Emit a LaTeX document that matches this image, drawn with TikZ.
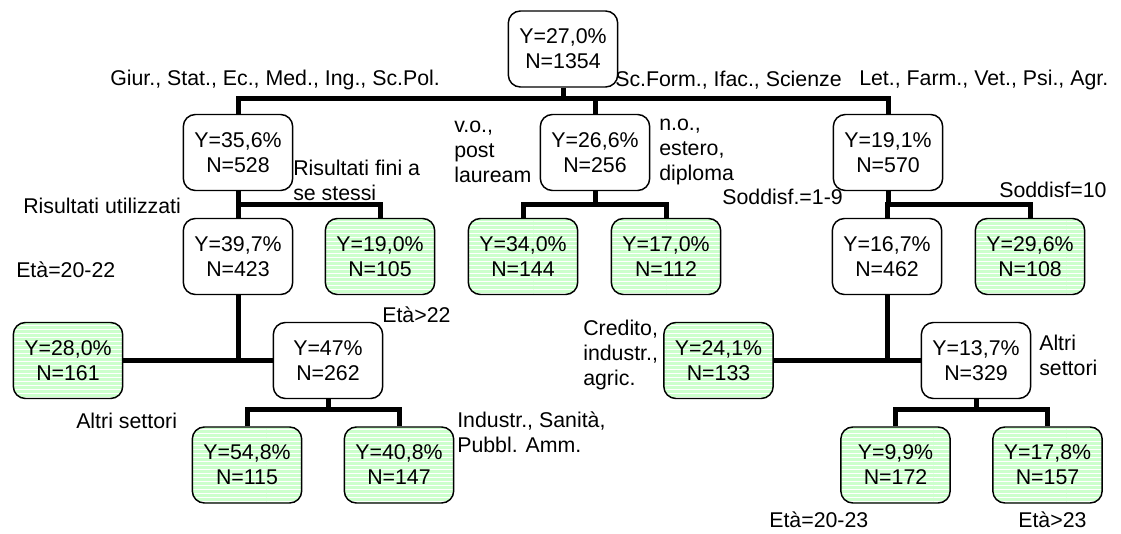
\documentclass[tikz,border=0pt]{standalone}
\usepackage{fontspec}
\setmainfont{Liberation Sans}
\usetikzlibrary{patterns}
\definecolor{leafgreen}{RGB}{204,255,204}

\begin{document}
\begin{tikzpicture}[x=0.75pt,y=-0.75pt]
  \tikzset{
    every node/.style={font=\fontsize{16}{18.75}\selectfont},
    box/.style={draw,rounded corners=9pt,line width=1.1pt,align=center,
      minimum width=82pt,minimum height=57pt,inner sep=0pt,
      execute at end node={\\[-9pt]\mbox{}}},
    leaf/.style={box,preaction={fill=leafgreen},pattern=horizontal lines,pattern color=white},
    lbl/.style={anchor=west,align=left,inner sep=0pt},
    link/.style={line width=3.75pt}
  }
  \useasboundingbox (0,0) rectangle (1121,534);

  % tree nodes
  \node[box] (root) at (563,49) {Y=27,0\%\\N=1354};
  \node[box] (n1) at (238,152.5) {Y=35,6\%\\N=528};
  \node[box] (n2) at (595,152.5) {Y=26,6\%\\N=256};
  \node[box] (n3) at (888,152.5) {Y=19,1\%\\N=570};
  \node[box] (n11) at (238,256.5) {Y=39,7\%\\N=423};
  \node[leaf] (n12) at (380,256.5) {Y=19,0\%\\N=105};
  \node[leaf] (n21) at (523,256.5) {Y=34,0\%\\N=144};
  \node[leaf] (n22) at (666,256.5) {Y=17,0\%\\N=112};
  \node[box] (n31) at (887,256.5) {Y=16,7\%\\N=462};
  \node[leaf] (n32) at (1030,256.5) {Y=29,6\%\\N=108};
  \node[leaf] (n111) at (68,360.5) {Y=28,0\%\\N=161};
  \node[box] (n112) at (328,360.5) {Y=47\%\\N=262};
  \node[leaf] (n311) at (718.5,360.5) {Y=24,1\%\\N=133};
  \node[box] (n312) at (976,360.5) {Y=13,7\%\\N=329};
  \node[leaf] (n1121) at (247,465) {Y=54,8\%\\N=115};
  \node[leaf] (n1122) at (399,465) {Y=40,8\%\\N=147};
  \node[leaf] (n3121) at (895.5,465) {Y=9,9\%\\N=172};
  \node[leaf] (n3122) at (1047.5,465) {Y=17,8\%\\N=157};

  % split labels
  \node[lbl] (l1) at (110,80) {Giur., Stat., Ec., Med., Ing., Sc.Pol.};
  \node[lbl] (l2) at (615,80) {Sc.Form., Ifac., Scienze};
  \node[lbl] (l3) at (859,80) {Let., Farm., Vet., Psi., Agr.};
  \node[lbl] (l21) at (454,152) {v.o.,\\post\\lauream};
  \node[lbl] (l22) at (659,152) {n.o.,\\estero,\\diploma};
  \node[lbl] (l12) at (293,180.5) {Risultati fini a\\se stessi};
  \node[lbl] (l11) at (23,206) {Risultati utilizzati};
  \node[lbl,anchor=east] (l31) at (843,197) {Soddisf.=1-9};
  \node[lbl] (l32) at (999,190) {Soddisf=10};
  \node[lbl] (l111) at (16,270) {Età=20-22};
  \node[lbl] (l112) at (382,315) {Età>22};
  \node[lbl] (l1121) at (76,421) {Altri settori};
  \node[lbl] (l1122) at (457,432.5) {Industr., Sanità,\\Pubbl. Amm.};
  \node[lbl] (l311) at (583,355) {Credito,\\industr.,\\agric.};
  \node[lbl] (l312) at (1039,355.5) {Altri\\settori};
  \node[lbl] (l3121) at (769,520) {Età=20-23};
  \node[lbl] (l3122) at (1018,520) {Età>23};

  % connectors
  \coordinate (bar0) at (0,99);
  \coordinate (bar1) at (0,205);
  \coordinate (bar3) at (0,410);
  \draw[link] (root.south) -- (root.south |- bar0);
  \draw[link] (n1.north) -- (n1.north |- bar0) -- (n3.north |- bar0) -- (n3.north);
  \draw[link] (n2.north) -- (n2.north |- bar0);

  \draw[link] (n1.south) -- (n1.south |- bar1);
  \draw[link] (n11.north) -- (n11.north |- bar1) -- (n12.north |- bar1) -- (n12.north);
  \draw[link] (n2.south) -- (n2.south |- bar1);
  \draw[link] (n21.north) -- (n21.north |- bar1) -- (n22.north |- bar1) -- (n22.north);
  \draw[link] (n3.south) -- (n3.south |- bar1);
  \draw[link] (n31.north) -- (n31.north |- bar1) -- (n32.north |- bar1) -- (n32.north);

  \draw[link] (n11.south) -- (n11.south |- n111.east);
  \draw[link] (n111) edge (n112)
              (n31.south) edge (n31.south |- n311.east)
              (n311) edge (n312);

  \draw[link] (n112.south) -- (n112.south |- bar3);
  \draw[link] (n1121.north) -- (n1121.north |- bar3) -- (n1122.north |- bar3) -- (n1122.north);
  \draw[link] (n312.south) -- (n312.south |- bar3);
  \draw[link] (n3121.north) -- (n3121.north |- bar3) -- (n3122.north |- bar3) -- (n3122.north);
\end{tikzpicture}
\end{document}
